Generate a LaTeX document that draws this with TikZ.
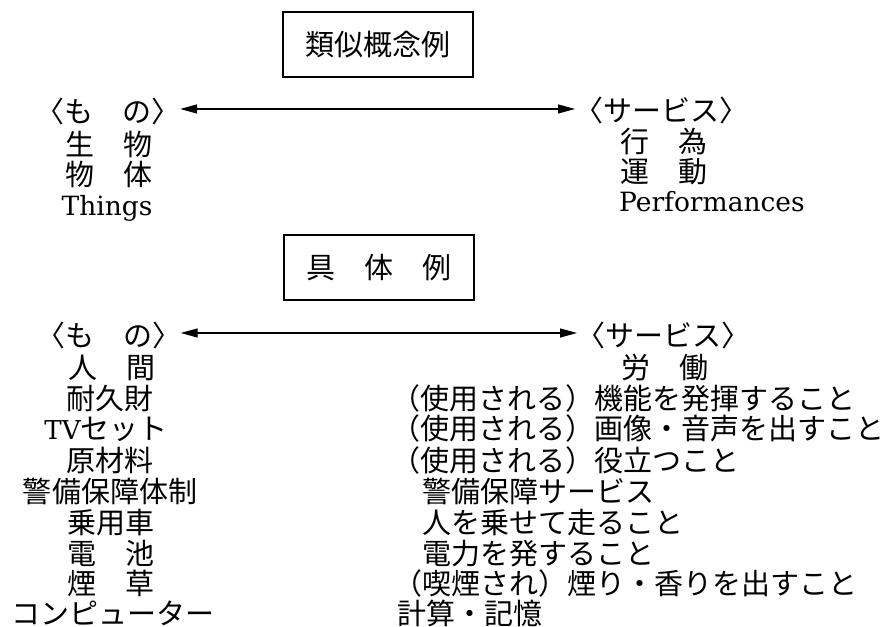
\documentclass[tikz,border=0pt]{standalone}
\usepackage{fontspec}
\usetikzlibrary{arrows.meta}
\newfontfamily\jp{Noto Sans CJK JP}
\newfontfamily\jph[RawFeature=+halt]{Noto Sans CJK JP}
\newfontfamily\latf{DejaVu Serif}
\newcommand{\lbr}{{\jph 〈}}
\newcommand{\rbr}{{\jph 〉}}
\newcommand{\lat}[1]{{\latf\fontsize{26.5}{28}\selectfont #1}}
\begin{document}
\begin{tikzpicture}[x=1pt,y=-1pt,
  txt/.style={font=\jp\fontsize{29}{31}\selectfont, inner sep=0pt, anchor=base},
  ltxt/.style={txt, anchor=base west},
  hbox/.style={draw, line width=1.4pt, minimum width=190pt, minimum height=65pt, inner sep=0pt, font=\jp\fontsize{29}{31}\selectfont},
  arr/.style={line width=1.3pt, {Triangle[length=17pt,width=9pt]}-{Triangle[length=17pt,width=9pt]}}]
\useasboundingbox[fill=white] (0,0) rectangle (888,626);
% headings
\node[hbox] (h1) at (378,44.5) {類似概念例};
\node[hbox] (h2) at (379,267.5) {具　体　例};
% top left
\node[txt] (lm1) at (108,122) {\lbr も　の\rbr};
\node[txt] (la2) at (108.5,155) {生　物};
\node[txt] (la3) at (108.5,185) {物　体};
\node[txt] (la4) at (107,215) {\lat{Things}};
% top right
\node[ltxt] (rs1) at (589,121) {\lbr サービス\rbr};
\node[ltxt] (ra2) at (620,152) {行　為};
\node[ltxt] (ra3) at (620,182) {運　動};
\node[ltxt] (ra4) at (619,211) {\lat{Performances}};
% bottom left
\node[txt] (lm2) at (108.5,346) {\lbr も　の\rbr};
\node[txt] (lb2) at (111.5,378) {人　間};
\node[txt] (lb3) at (110,409) {耐久財};
\node[txt] (lb4) at (106,439) {{\latf\fontsize{26}{28}\selectfont TV}セット};
\node[txt] (lb5) at (110,471) {原材料};
\node[txt] (lb6) at (110,502) {警備保障体制};
\node[txt] (lb7) at (111,533) {乗用車};
\node[txt] (lb8) at (111,564) {電　池};
\node[txt] (lb9) at (111,594) {煙　草};
\node[txt] (lb10) at (113,624) {コンピューター};
% bottom right
\node[ltxt] (rs2) at (591,346) {\lbr サービス\rbr};
\node[ltxt] (rb2) at (621,378) {労　働};
\node[ltxt] (rb3) at (391,409) {（使用される）機能を発揮すること};
\node[ltxt] (rb4) at (391,439) {（使用される）画像・音声を出すこと};
\node[ltxt] (rb5) at (391,471) {（使用される）役立つこと};
\node[ltxt] (rb6) at (422,502) {警備保障サービス};
\node[ltxt] (rb7) at (422,533) {人を乗せて走ること};
\node[ltxt] (rb8) at (422,564) {電力を発すること};
\node[ltxt] (rb9) at (393,594) {（喫煙され）煙り・香りを出すこと};
\node[ltxt] (rb10) at (397,624) {計算・記憶};
% arrows
\draw[arr] ([xshift=14pt,yshift=2pt]lm1.east) -- ([xshift=-14pt,yshift=2pt]lm1.east -| rs1.west);
\draw[arr] ([xshift=14pt,yshift=2pt]lm2.east) -- ([xshift=-14pt,yshift=2pt]lm2.east -| rs2.west);
\end{tikzpicture}
\end{document}
